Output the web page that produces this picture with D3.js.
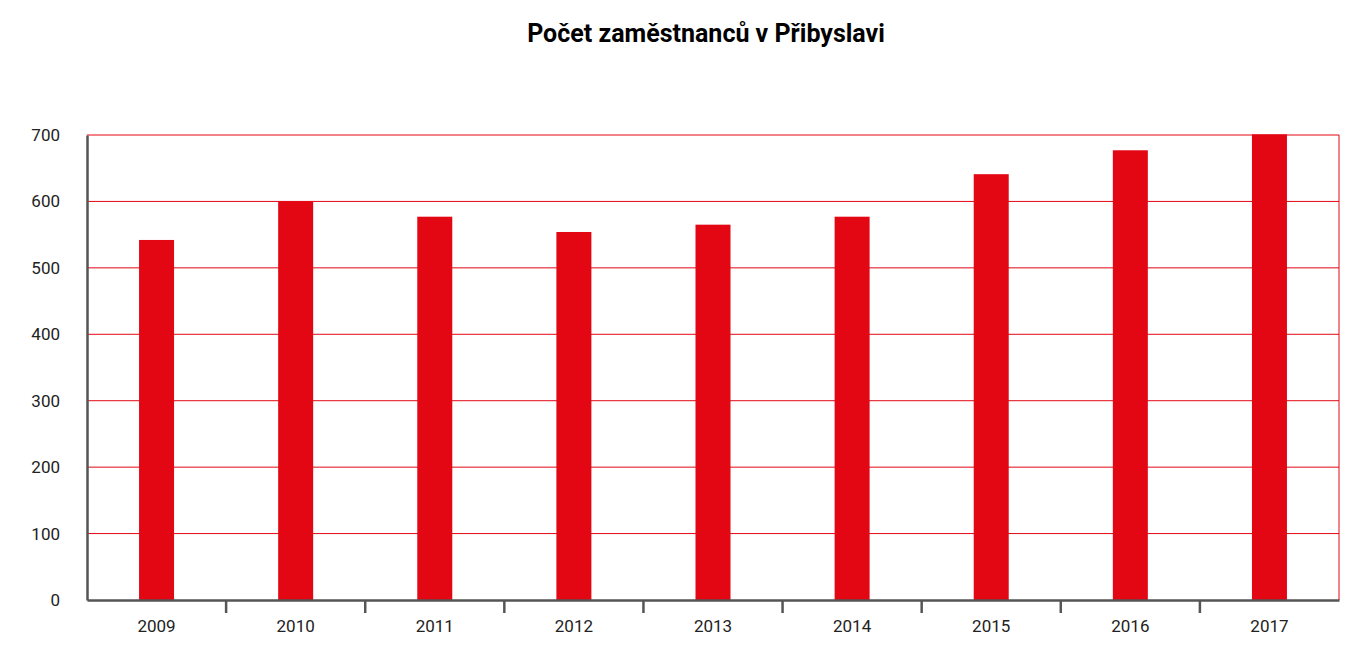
<!DOCTYPE html>
<html>
<head>
<meta charset="utf-8">
<script src="https://cdn.jsdelivr.net/npm/d3@7"></script>
<style>
body { margin: 0; background: #fff; }
text { font-family: Roboto, "Liberation Sans", sans-serif; }
</style>
</head>
<body>
<svg width="1370" height="651"></svg>
<script>
var years = ["2009", "2010", "2011", "2012", "2013", "2014", "2015", "2016", "2017"];
var employees = [542, 600, 577, 554, 565, 577, 641, 677, 701];
var yTicks = [0, 100, 200, 300, 400, 500, 600, 700];

var plotLeft = 87, plotRight = 1339, plotTop = 135, plotBottom = 600;

var svg = d3.select("svg");

var xScale = d3.scaleBand()
	.domain(years)
	.range([plotLeft, plotRight]);

var yScale = d3.scaleLinear()
	.domain([0, 700])
	.range([plotBottom, plotTop]);

svg.append("text")
	.attr("x", 706)
	.attr("y", 42)
	.attr("text-anchor", "middle")
	.attr("font-size", 25)
	.attr("font-weight", "bold")
	.text("Počet zaměstnanců v Přibyslavi");

// gridlines
svg.selectAll("line.grid")
	.data(yTicks.slice(1))
	.enter()
	.append("line")
	.attr("class", "grid")
	.attr("x1", plotLeft)
	.attr("x2", plotRight)
	.attr("y1", function(d) { return yScale(d); })
	.attr("y2", function(d) { return yScale(d); })
	.attr("stroke", "#e30613")
	.attr("stroke-width", 1);

svg.append("line")
	.attr("x1", plotRight).attr("x2", plotRight)
	.attr("y1", plotTop).attr("y2", plotBottom)
	.attr("stroke", "#e30613")
	.attr("stroke-width", 1);

var barWidth = 35;
svg.selectAll("rect.bar")
	.data(employees)
	.enter()
	.append("rect")
	.attr("class", "bar")
	.attr("x", function(d, i) { return xScale(years[i]) + xScale.bandwidth() / 2 - barWidth / 2; })
	.attr("y", function(d) { return yScale(d); })
	.attr("width", barWidth)
	.attr("height", function(d) { return plotBottom - yScale(d); })
	.attr("fill", "#e30613");

// y axis
var yAxis = svg.append("g")
	.attr("transform", "translate(" + plotLeft + ",0)")
	.call(d3.axisLeft(yScale).tickValues(yTicks).tickSize(0).tickPadding(27));
yAxis.select(".domain").attr("stroke", "#555").attr("stroke-width", 2.5);
yAxis.selectAll("text").attr("font-size", 17).attr("fill", "#222");

// x axis
var xAxis = svg.append("g")
	.attr("transform", "translate(0," + plotBottom + ")")
	.call(d3.axisBottom(xScale).tickSize(0).tickPadding(20));
xAxis.select(".domain").attr("stroke", "#555").attr("stroke-width", 2.5);
xAxis.selectAll("text").attr("font-size", 17).attr("fill", "#222");

svg.selectAll("line.sep")
	.data(years.slice(1))
	.enter()
	.append("line")
	.attr("class", "sep")
	.attr("x1", function(d) { return xScale(d); })
	.attr("x2", function(d) { return xScale(d); })
	.attr("y1", plotBottom)
	.attr("y2", plotBottom + 13)
	.attr("stroke", "#555")
	.attr("stroke-width", 2.5);
</script>
</body>
</html>
